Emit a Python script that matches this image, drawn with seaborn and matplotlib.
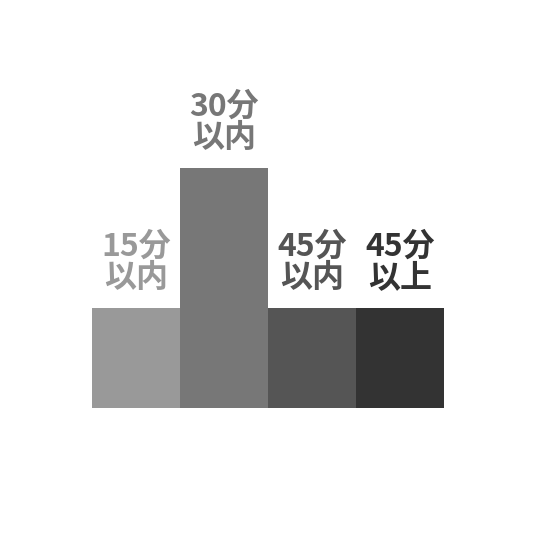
import matplotlib
matplotlib.use('Agg')
import matplotlib.pyplot as plt
import pandas as pd
import seaborn as sns

categories = ['15分\n以内', '30分\n以内', '45分\n以内', '45分\n以上']
values = [10, 24, 10, 10]
colors = ['#999999', '#777777', '#555555', '#333333']

sns.set_style('white')
plt.rcParams['font.family'] = ['Noto Sans CJK JP', 'DejaVu Sans']

df = pd.DataFrame({'category': categories, 'value': values})

fig = plt.figure(figsize=(5.4, 5.4), dpi=100)
ax = fig.add_axes([92 / 540, 132 / 540, 352 / 540, 300 / 540])

sns.barplot(data=df, x='category', y='value', hue='category', palette=colors,
            width=1.0, legend=False, saturation=1, linewidth=0, ax=ax)

ax.set_xlim(-0.5, 3.5)
ax.set_ylim(0, 30)
ax.axis('off')

# label each bar in its own colour, just above the top
for i, (label, val) in enumerate(zip(categories, values)):
    ax.annotate(label, xy=(i, val), xytext=(0, 14), textcoords='offset pixels',
                ha='center', va='bottom', fontsize=23, fontweight='bold',
                color=colors[i], linespacing=0.98)

fig.savefig('out.png', dpi=100)
